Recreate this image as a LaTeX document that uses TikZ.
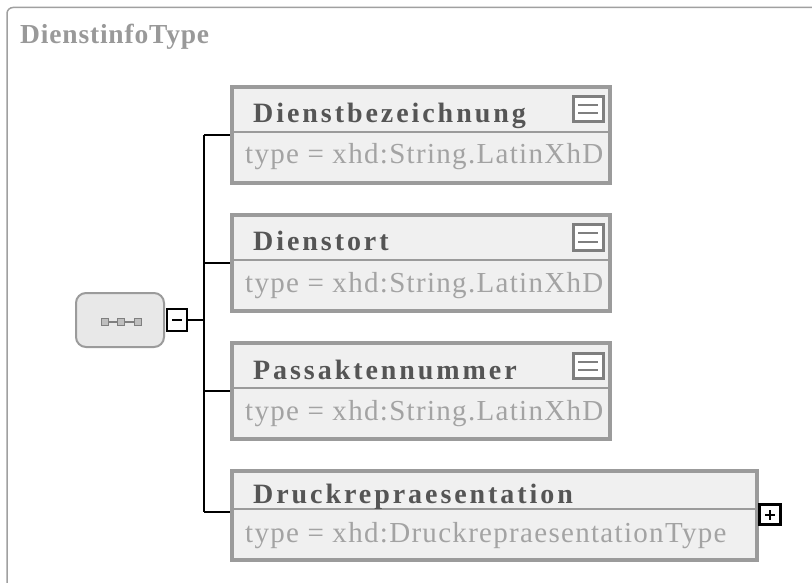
\documentclass[tikz,border=0pt]{standalone}
\usepackage{fontspec}
\setmainfont{Liberation Serif}
\definecolor{framegray}{HTML}{A0A0A0}
\definecolor{bordergray}{HTML}{9B9B9B}
\definecolor{boxfill}{HTML}{F0F0F0}
\definecolor{seqfill}{HTML}{E8E8E8}
\definecolor{titlegray}{HTML}{999999}
\definecolor{namegray}{HTML}{555555}
\definecolor{typegray}{HTML}{A3A3A3}
\definecolor{icongray}{HTML}{7F7F7F}
\tikzset{
  elbox/.style={draw=bordergray, line width=4pt, fill=boxfill, inner sep=0pt, outer sep=0pt},
  divider/.style={draw=bordergray, line width=2pt},
  nametext/.style={anchor=base west, inner sep=0pt, text=namegray, font=\fontsize{28}{30}\selectfont\bfseries\addfontfeature{LetterSpace=10.5}},
  typetext/.style={anchor=base west, inner sep=0pt, text=typegray, font=\fontsize{29}{30}\selectfont\addfontfeature{LetterSpace=4.5}},
  eqicon/.style={draw=icongray, line width=3pt, fill=white, minimum width=30pt, minimum height=25pt, inner sep=0pt, outer sep=0pt},
  eqline/.style={draw=icongray, line width=2pt},
  seqbox/.style={draw=bordergray, line width=2pt, fill=seqfill, rounded corners=10pt, minimum width=88pt, minimum height=54pt, inner sep=0pt, outer sep=0pt},
  ctrlbox/.style={draw=black, line width=2.5pt, fill=white, inner sep=0pt, outer sep=0pt},
  conn/.style={draw=black, line width=2.5pt},
  dotsq/.style={draw=icongray, fill=seqfill!60!gray, line width=1.2pt, minimum size=7pt, inner sep=0pt}
}
\begin{document}
\begin{tikzpicture}[x=1pt,y=-1pt]
\useasboundingbox (0,0) rectangle (812,583);
\begin{scope}
\clip (0,0) rectangle (812,583);
\draw[framegray, line width=1.5pt, rounded corners=6pt] (7,7.5) rectangle (830,600);
\end{scope}
\node[anchor=base west, inner sep=0pt, text=titlegray, font=\fontsize{27.5}{30}\selectfont\bfseries\addfontfeature{LetterSpace=3}] (title) at (20,44) {DienstinfoType};

% connectors
\coordinate (j1) at (204,135);
\coordinate (j2) at (204,263);
\coordinate (j3) at (204,391);
\coordinate (j4) at (204,512);
\coordinate (jm) at (204,320);

% sequence compositor
\node[seqbox] (seq) at (120,320) {};
\draw[icongray, line width=1.4pt] (104,322) -- (139,322);
\node[dotsq] (d1) at (105,322) {};
\node[dotsq] (d2) at (121,322) {};
\node[dotsq] (d3) at (138,322) {};

% boxes
\node[elbox, minimum width=378pt, minimum height=96pt] (b1) at (421,135) {};
\node[elbox, minimum width=378pt, minimum height=96pt] (b2) at (421,263) {};
\node[elbox, minimum width=378pt, minimum height=96pt] (b3) at (421,391) {};
\node[elbox, minimum width=525pt, minimum height=89pt] (b4) at (494.5,515.5) {};

\draw[conn] (j1) -- (j4);
\draw[conn] (j1) -- (b1.west |- j1);
\draw[conn] (j2) -- (b2.west |- j2);
\draw[conn] (j3) -- (b3.west |- j3);
\draw[conn] (j4) -- (b4.west |- j4);

\node[ctrlbox, minimum width=20pt, minimum height=22pt] (minus) at (177,320) {};
\draw[conn] (minus.east) -- (jm);
\draw[black, line width=2pt] ([xshift=-5pt]minus.center) -- ([xshift=5pt]minus.center);

% redraw boxes over connector ends
\node[elbox, minimum width=378pt, minimum height=96pt] at (421,135) {};
\node[elbox, minimum width=378pt, minimum height=96pt] at (421,263) {};
\node[elbox, minimum width=378pt, minimum height=96pt] at (421,391) {};
\node[elbox, minimum width=525pt, minimum height=89pt] at (494.5,515.5) {};

\draw[divider] (232,132) -- (610,132);
\draw[divider] (232,260) -- (610,260);
\draw[divider] (232,388) -- (610,388);
\draw[divider] (232,509) -- (757,509);

\node[nametext] (n1) at (253,123) {Dienstbezeichnung};
\node[typetext] (t1) at (245,164) {type = xhd:String.LatinXhD};
\node[nametext] (n2) at (253,251) {Dienstort};
\node[typetext] (t2) at (245,292) {type = xhd:String.LatinXhD};
\node[nametext] (n3) at (253,379) {Passaktennummer};
\node[typetext] (t3) at (245,420) {type = xhd:String.LatinXhD};
\node[nametext] (n4) at (253,503) {Druckrepraesentation};
\node[typetext] (t4) at (245,542) {type = xhd:DruckrepraesentationType};

% equal icons
\foreach \n/\yy in {e1/109.5, e2/237.5, e3/365.5} {
  \node[eqicon] (\n) at (588,\yy) {};
  \draw[eqline] ([shift={(-10pt,-4pt)}]\n.center) -- ([shift={(10pt,-4pt)}]\n.center);
  \draw[eqline] ([shift={(-10pt,4pt)}]\n.center) -- ([shift={(10pt,4pt)}]\n.center);
}

% plus box
\node[ctrlbox, minimum width=21pt, minimum height=20pt] (plus) at (770,514.5) {};
\draw[black, line width=2pt] ([xshift=-5pt]plus.center) -- ([xshift=5pt]plus.center);
\draw[black, line width=2pt] ([yshift=-5pt]plus.center) -- ([yshift=5pt]plus.center);
\end{tikzpicture}
\end{document}
